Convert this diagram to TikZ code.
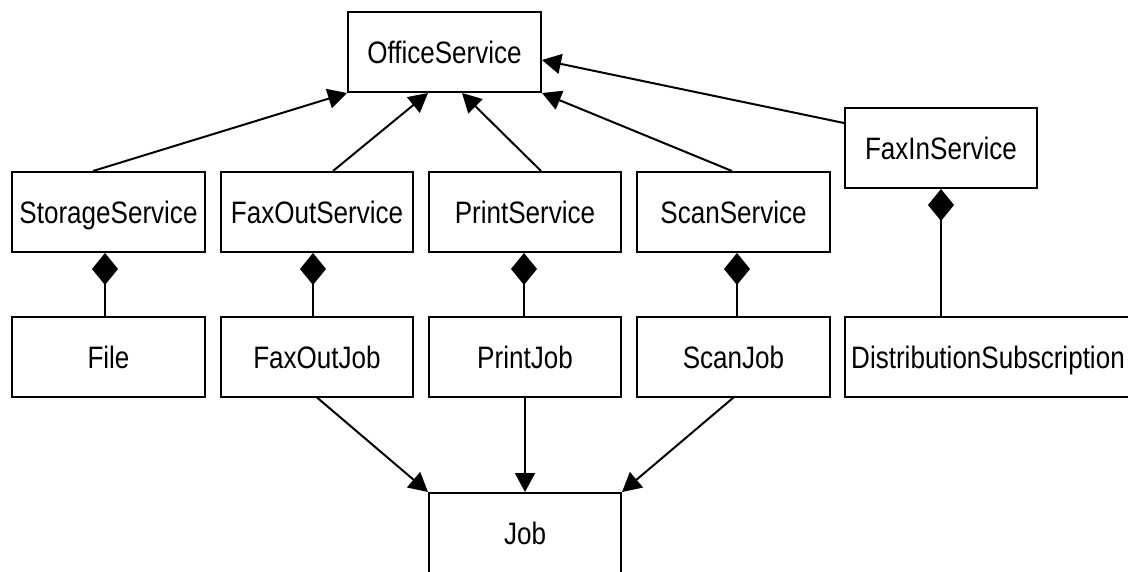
\documentclass[tikz,border=0pt]{standalone}
\usepackage{fontspec}
\setmainfont{Liberation Sans}[FakeStretch=0.84]
\usetikzlibrary{arrows.meta}
\begin{document}
\begin{tikzpicture}[x=1pt,y=-1pt,line width=2pt,
  cls/.style={draw=black,rectangle,inner sep=0pt,minimum height=80pt,text height=29.5pt,text depth=6pt,font=\fontsize{31}{36}\selectfont},
  gen/.style={-{Triangle[length=19pt,width=20pt]}},
  comp/.style={-{Diamond[length=32pt,width=26pt]}}]
\useasboundingbox (0,0) rectangle (1128,571);
\clip (0,0) rectangle (1128,571);
\node[cls,minimum width=193pt] (Office) at (444.5,52) {OfficeService};
\node[cls,minimum width=193pt] (Storage) at (108.5,212) {StorageService};
\node[cls,minimum width=192pt] (FaxOut) at (317,212) {FaxOutService};
\node[cls,minimum width=192pt] (Print) at (525,212) {PrintService};
\node[cls,minimum width=193pt] (Scan) at (733.5,212) {ScanService};
\node[cls,minimum width=192pt] (FaxIn) at (941,148) {FaxInService};
\node[cls,minimum width=193pt] (File) at (108.5,356.5) {File};
\node[cls,minimum width=192pt] (FaxOutJob) at (317,356.5) {FaxOutJob};
\node[cls,minimum width=192pt] (PrintJob) at (525,356.5) {PrintJob};
\node[cls,minimum width=193pt] (ScanJob) at (733.5,356.5) {ScanJob};
\node[cls,minimum width=286pt] (Dist) at (988,356.5) {DistributionSubscription};
\node[cls,minimum width=192pt] (Job) at (525,533) {Job};
% generalizations
\draw[gen] ([xshift=-15.5pt]Storage.north) -- (Office.south west);
\draw[gen] ([xshift=16pt]FaxOut.north) -- ([xshift=-16.5pt]Office.south);
\draw[gen] ([xshift=16pt]Print.north) -- ([xshift=17.5pt]Office.south);
\draw[gen] ([xshift=-1.5pt]Scan.north) -- (Office.south east);
\draw[gen] ([yshift=25pt]FaxIn.west) -- ([yshift=-8pt]Office.east);
% compositions
\draw[comp] ([xshift=-3.5pt]File.north) -- ([xshift=-3.5pt]Storage.south);
\draw[comp] ([xshift=-4pt]FaxOutJob.north) -- ([xshift=-4pt]FaxOut.south);
\draw[comp] ([xshift=-1pt]PrintJob.north) -- ([xshift=-1pt]Print.south);
\draw[comp] ([xshift=3.5pt]ScanJob.north) -- ([xshift=3.5pt]Scan.south);
\draw[comp] (Dist.north -| FaxIn.south) -- (FaxIn.south);
% associations to Job
\draw[gen] (FaxOutJob.south) -- (Job.north west);
\draw[gen] (PrintJob.south) -- (Job.north);
\draw[gen] (ScanJob.south) -- (Job.north east);
\end{tikzpicture}
\end{document}
